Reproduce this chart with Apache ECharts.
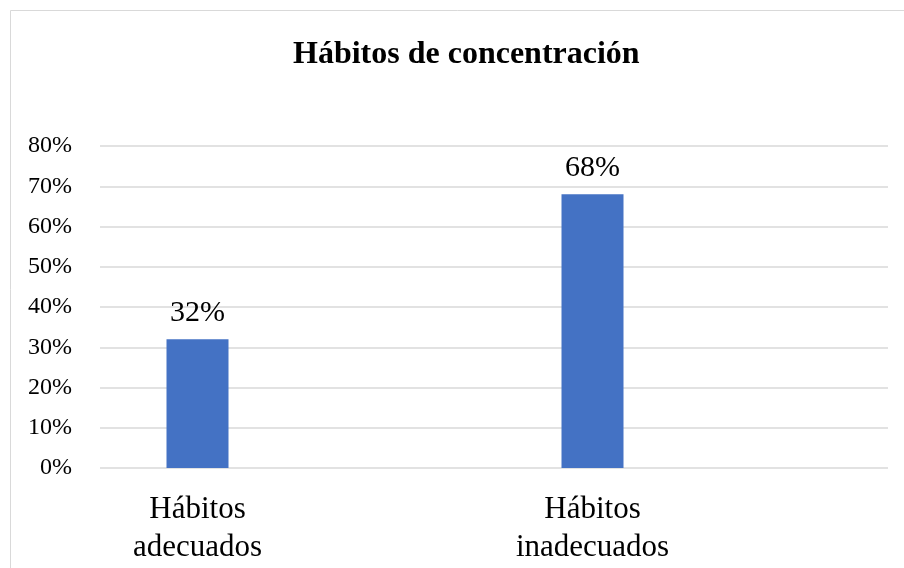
<!DOCTYPE html>
<html>
<head>
<meta charset="utf-8">
<script src="https://cdn.jsdelivr.net/npm/echarts@6/dist/echarts.min.js"></script>
<style>
  html, body { margin: 0; padding: 0; background: #fff; }
  #chart { width: 904px; height: 568px; }
</style>
</head>
<body>
<div id="chart"></div>
<script>
  // datos del gráfico
  const categories = ['Hábitos\nadecuados', 'Hábitos\ninadecuados']
  const values = [0.32, 0.68]
  const yMax = 0.8
  const yStep = 0.1

  const font = '"Liberation Serif", "Times New Roman", serif'
  const pct = function (v) { return Math.round(v * 100) + '%' }

  const chart = echarts.init(document.getElementById('chart'))
  chart.setOption({
    backgroundColor: '#ffffff',
    animation: false,
    title: {
      text: 'Hábitos de concentración',
      left: 288,
      top: 34,
      textStyle: {
        fontFamily: font,
        fontSize: 32,
        fontWeight: 'bold',
        color: '#000'
      }
    },
    graphic: [{
      type: 'rect',
      shape: { x: 10.5, y: 10.5, width: 900, height: 570 },
      style: { fill: 'none', stroke: '#d9d9d9', lineWidth: 1 },
      silent: true
    }],
    grid: [
      // rejilla con el eje y y las líneas horizontales
      { left: 100, right: 16, top: 146, bottom: 100, outerBoundsMode: 'none' },
      // rejilla de las barras
      { left: 0, width: 790, top: 146, bottom: 100, outerBoundsMode: 'none' }
    ],
    xAxis: [{
      type: 'category',
      gridIndex: 0,
      data: categories,
      show: false
    }, {
      type: 'category',
      gridIndex: 1,
      data: categories,
      axisLine: { show: false },
      axisTick: { show: false },
      axisLabel: {
        margin: 23,
        fontFamily: font,
        fontSize: 31,
        lineHeight: 38,
        color: '#000'
      }
    }],
    yAxis: [{
      type: 'value',
      gridIndex: 0,
      min: 0,
      max: yMax,
      interval: yStep,
      axisLine: { show: false },
      axisTick: { show: false },
      axisLabel: {
        margin: 28,
        fontFamily: font,
        fontSize: 24,
        color: '#000',
        formatter: pct
      },
      splitLine: { lineStyle: { color: '#d9d9d9', width: 1.5 } }
    }, {
      type: 'value',
      gridIndex: 1,
      min: 0,
      max: yMax,
      interval: yStep,
      show: false,
      splitLine: { show: false }
    }],
    series: [{
      type: 'bar',
      xAxisIndex: 1,
      yAxisIndex: 1,
      data: values,
      barWidth: 62,
      itemStyle: { color: '#4472c4' },
      label: {
        show: true,
        position: 'top',
        distance: 11,
        fontFamily: font,
        fontSize: 30,
        color: '#000',
        formatter: function (p) { return pct(p.value) }
      }
    }]
  })
</script>
</body>
</html>
